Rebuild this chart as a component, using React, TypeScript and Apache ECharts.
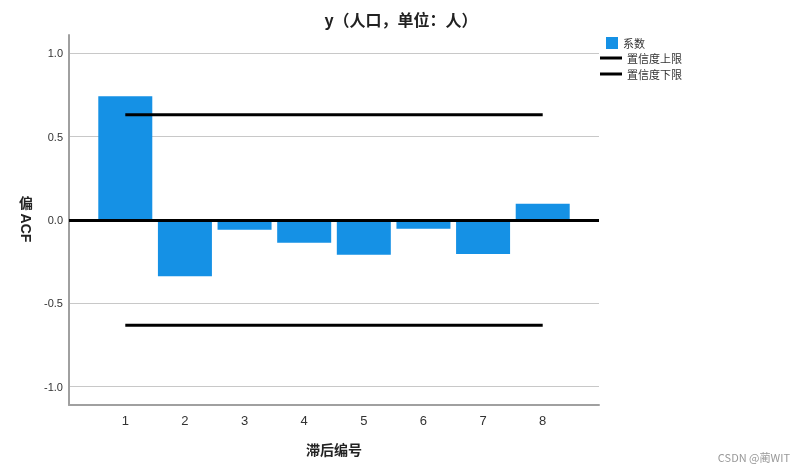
import React, { useEffect, useRef } from "react";
import * as echarts from "echarts";

const lags = [1, 2, 3, 4, 5, 6, 7, 8];
const coefficients = [0.742, -0.338, -0.058, -0.136, -0.208, -0.052, -0.204, 0.098];
const upperLimit = [0.631, 0.631];
const lowerLimit = [-0.631, -0.631];
const limitLags = [1, 8];
const yTicks = [-1, -0.5, 0, 0.5, 1];

const FONT = "'Noto Sans CJK SC', 'Liberation Sans', Arial, sans-serif";

export default function App() {
  const ref = useRef<HTMLDivElement>(null);
  useEffect(() => {
    if (!ref.current) return;
    const chart = echarts.init(ref.current, null, { renderer: "svg" });
    chart.setOption({
      animation: false,
      textStyle: { fontFamily: FONT },
      title: {
        text: "y（人口，单位：人）",
        left: 396,
        textAlign: "center",
        top: 6,
        textStyle: { fontSize: 16, fontWeight: "bold", color: "#222", fontFamily: FONT },
      },
      legend: [
        {
          data: ["系数"],
          orient: "vertical",
          left: 601,
          top: 31,
          itemWidth: 12,
          itemHeight: 12,
          icon: "rect",
          textStyle: { fontSize: 11, color: "#333", fontFamily: FONT, lineHeight: 14 },
        },
        {
          data: ["置信度上限", "置信度下限"],
          orient: "vertical",
          left: 595,
          top: 46,
          itemGap: 2,
          itemWidth: 22,
          itemHeight: 3,
          icon: "rect",
          textStyle: { fontSize: 11, color: "#333", fontFamily: FONT, lineHeight: 14 },
        },
      ],
      grid: { left: 69, right: 201, top: 35, bottom: 67, containLabel: false },
      xAxis: {
        type: "value",
        min: 0.056,
        max: 8.944,
        name: "滞后编号",
        nameLocation: "middle",
        nameGap: 37,
        nameTextStyle: { fontSize: 14, fontWeight: "bold", color: "#222", fontFamily: FONT },
        axisLine: { show: true, onZero: false, lineStyle: { color: "#a0a0a0", width: 2 } },
        axisTick: { show: false, customValues: lags },
        axisLabel: {
          customValues: lags,
          fontSize: 13,
          color: "#333",
          margin: 9,
          fontFamily: "'Liberation Sans', Arial, sans-serif",
        },
        splitLine: { show: false },
      },
      yAxis: {
        type: "value",
        min: -1.11,
        max: 1.11,
        axisLine: { show: true, onZero: false, lineStyle: { color: "#a0a0a0", width: 2 } },
        axisTick: { show: false, customValues: yTicks },
        axisLabel: {
          customValues: yTicks,
          fontSize: 11,
          color: "#333",
          margin: 6,
          fontFamily: "'Liberation Sans', Arial, sans-serif",
          formatter: (v: number) => v.toFixed(1),
        },
        splitLine: { show: true, lineStyle: { color: "#c8c8c8", width: 1 } },
      },
      series: [
        {
          name: "系数",
          type: "bar",
          data: lags.map((l, i) => [l, coefficients[i]]),
          barWidth: 54,
          itemStyle: { color: "#1591e5" },
          markLine: {
            silent: true,
            symbol: "none",
            label: { show: false },
            lineStyle: { color: "#000", width: 3, type: "solid" },
            data: [{ yAxis: 0 }],
          },
          z: 2,
        },
        {
          name: "置信度上限",
          type: "line",
          data: limitLags.map((l, i) => [l, upperLimit[i]]),
          showSymbol: false,
          lineStyle: { color: "#000", width: 3 },
          itemStyle: { color: "#000" },
          z: 3,
        },
        {
          name: "置信度下限",
          type: "line",
          data: limitLags.map((l, i) => [l, lowerLimit[i]]),
          showSymbol: false,
          lineStyle: { color: "#000", width: 3 },
          itemStyle: { color: "#000" },
          z: 3,
        },
      ],
      graphic: [
        {
          type: "text",
          x: 26,
          y: 202,
          style: {
            text: "偏",
            fontSize: 14,
            fontWeight: "bold",
            fill: "#222",
            fontFamily: FONT,
            align: "center",
            verticalAlign: "middle",
          },
        },
        {
          type: "text",
          x: 26,
          y: 228,
          rotation: -Math.PI / 2,
          style: {
            text: "ACF",
            fontSize: 14,
            fontWeight: "bold",
            fill: "#222",
            fontFamily: "'Liberation Sans', Arial, sans-serif",
            align: "center",
            verticalAlign: "middle",
          },
        },
        {
          type: "text",
          right: 10,
          bottom: 10,
          style: { text: "CSDN @蔺WIT", fontSize: 11, fill: "#999", fontFamily: FONT },
        },
      ],
    });
    return () => chart.dispose();
  }, []);
  return <div ref={ref} style={{ width: 800, height: 472, position: "fixed", left: 0, top: 0 }} />;
}
